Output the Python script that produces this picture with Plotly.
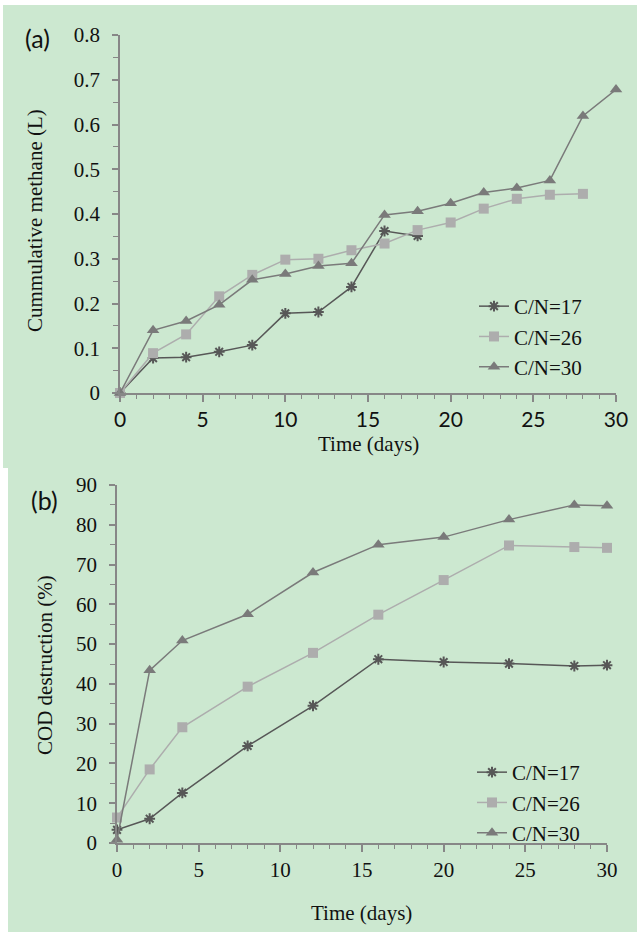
import plotly.graph_objects as go

# ---------------- data ----------------
days_a17 = [0, 2, 4, 6, 8, 10, 12, 14, 16, 18]
methane_cn17 = [0, 0.078, 0.080, 0.092, 0.107, 0.178, 0.181, 0.237, 0.362, 0.351]
days_a26 = [0, 2, 4, 6, 8, 10, 12, 14, 16, 18, 20, 22, 24, 26, 28]
methane_cn26 = [0, 0.089, 0.131, 0.216, 0.264, 0.298, 0.300, 0.319, 0.334, 0.364,
                0.381, 0.412, 0.434, 0.443, 0.445]
days_a30 = [0, 2, 4, 6, 8, 10, 12, 14, 16, 18, 20, 22, 24, 26, 28, 30]
methane_cn30 = [0, 0.140, 0.161, 0.197, 0.253, 0.266, 0.284, 0.290, 0.398, 0.406,
                0.424, 0.448, 0.458, 0.475, 0.619, 0.678]

days_b = [0, 2, 4, 8, 12, 16, 20, 24, 28, 30]
cod_cn17 = [3.3, 6.1, 12.6, 24.4, 34.5, 46.2, 45.5, 45.1, 44.5, 44.7]
cod_cn26 = [6.4, 18.5, 29.1, 39.3, 47.8, 57.4, 66.1, 74.8, 74.4, 74.2]
cod_cn30 = [0.8, 43.4, 50.9, 57.5, 68.0, 75.0, 76.9, 81.3, 85.0, 84.8]

series_names = ["C/N=17", "C/N=26", "C/N=30"]
x_ticks = [0, 5, 10, 15, 20, 25, 30]

# ---------------- styling ----------------
W, H = 637, 933
GREEN = "#CCE8D0"
AXIS = "#878787"
SERIF = "Liberation Serif, Times New Roman, serif"
SANS = "Lato, Carlito, Calibri, sans-serif"
TXT = "#111111"

styles = [
    dict(line=dict(color="#575757", width=1.5),
         marker=dict(symbol="asterisk-open", size=9, color="#575757",
                     line=dict(color="#575757", width=2))),
    dict(line=dict(color="#ADADAD", width=1.5),
         marker=dict(symbol="square", size=10, color="#ADADAD")),
    dict(line=dict(color="#7A7A7A", width=1.5),
         marker=dict(symbol="triangle-up", size=11, color="#7A7A7A")),
]


def px_x(x):
    return x / W


def px_y(y):
    return 1 - y / H


fig = go.Figure()

top_sets = [(days_a17, methane_cn17), (days_a26, methane_cn26), (days_a30, methane_cn30)]
for (d, v), name, st in zip(top_sets, series_names, styles):
    fig.add_trace(go.Scatter(x=d, y=v, name=name, mode="lines+markers",
                             xaxis="x", yaxis="y", legend="legend",
                             cliponaxis=False, **st))

bot_sets = [cod_cn17, cod_cn26, cod_cn30]
for v, name, st in zip(bot_sets, series_names, styles):
    fig.add_trace(go.Scatter(x=days_b, y=v, name=name, mode="lines+markers",
                             xaxis="x2", yaxis="y2", legend="legend2",
                             cliponaxis=False, **st))

common_axis = dict(showgrid=False, zeroline=False, showline=True,
                   linecolor=AXIS, linewidth=1.5, ticks="outside",
                   tickcolor=AXIS, tickwidth=1.5, automargin=False)


def ann(text, x, y, font, angle=0):
    return dict(text=text, xref="paper", yref="paper", x=px_x(x), y=px_y(y),
                xanchor="center", yanchor="middle", textangle=angle,
                showarrow=False, font=font)


fig.update_layout(
    template="none",
    width=W, height=H,
    margin=dict(l=0, r=0, t=0, b=0, pad=0, autoexpand=False),
    paper_bgcolor="white",
    plot_bgcolor="rgba(0,0,0,0)",
    showlegend=True,
    xaxis=dict(domain=[px_x(120), px_x(616)], range=[0, 30], anchor="y",
               tickvals=x_ticks, ticklen=7,
               minor=dict(ticks="outside", dtick=1, ticklen=4, tickcolor=AXIS, tickwidth=1.2),
               tickfont=dict(family=SANS, size=21, color=TXT),
               ticklabelstandoff=0, **common_axis),
    yaxis=dict(domain=[px_y(393), px_y(35)], range=[0, 0.8], anchor="x",
               dtick=0.1, ticklen=6, tickformat="~g",
               minor=dict(ticks="outside", dtick=0.05, ticklen=5, tickcolor=AXIS, tickwidth=1.2),
               tickfont=dict(family=SERIF, size=21, color=TXT),
               ticklabelstandoff=8, **common_axis),
    xaxis2=dict(domain=[px_x(117), px_x(607)], range=[0, 30], anchor="y2",
                tickvals=x_ticks, ticklen=7,
                minor=dict(ticks="outside", dtick=1, ticklen=4, tickcolor=AXIS, tickwidth=1.2),
                tickfont=dict(family=SERIF, size=21, color=TXT),
                ticklabelstandoff=0, **common_axis),
    yaxis2=dict(domain=[px_y(843), px_y(485)], range=[0, 90], anchor="x2",
                dtick=10, ticklen=6,
                minor=dict(ticks="outside", dtick=5, ticklen=5, tickcolor=AXIS, tickwidth=1.2),
                tickfont=dict(family=SERIF, size=21, color=TXT),
                ticklabelstandoff=8, **common_axis),
    legend=dict(x=px_x(474), y=px_y(286), xanchor="left", yanchor="top",
                bgcolor="rgba(0,0,0,0)", borderwidth=0,
                font=dict(family=SERIF, size=21, color=TXT),
                tracegroupgap=0, itemwidth=30),
    legend2=dict(x=px_x(472), y=px_y(752), xanchor="left", yanchor="top",
                 bgcolor="rgba(0,0,0,0)", borderwidth=0,
                 font=dict(family=SERIF, size=21, color=TXT),
                 tracegroupgap=0, itemwidth=30),
    shapes=[
        dict(type="rect", xref="paper", yref="paper", layer="below",
             x0=px_x(3), x1=px_x(637), y0=px_y(468), y1=px_y(5),
             fillcolor=GREEN, line=dict(width=0)),
        dict(type="rect", xref="paper", yref="paper", layer="below",
             x0=px_x(8), x1=px_x(637), y0=px_y(932), y1=px_y(468),
             fillcolor=GREEN, line=dict(width=0)),
    ],
    annotations=[
        ann("(a)", 37, 38, dict(family=SANS, size=25, color=TXT)),
        ann("(b)", 44, 500, dict(family=SANS, size=25, color=TXT)),
        ann("Time (days)", 368, 444, dict(family=SERIF, size=21, color=TXT)),
        ann("Time (days)", 362, 913, dict(family=SERIF, size=21, color=TXT)),
        ann("Cummulative methane (L)", 35, 221, dict(family=SERIF, size=21, color=TXT), -90),
        ann("COD destruction (%)", 45, 665, dict(family=SERIF, size=21, color=TXT), -90),
    ],
)

fig.write_html(
    "out.html",
    config={"displayModeBar": False},
    post_script="document.body.style.margin='0';"
                "document.documentElement.style.overflow='hidden';"
                "document.body.style.overflow='hidden';",
)
